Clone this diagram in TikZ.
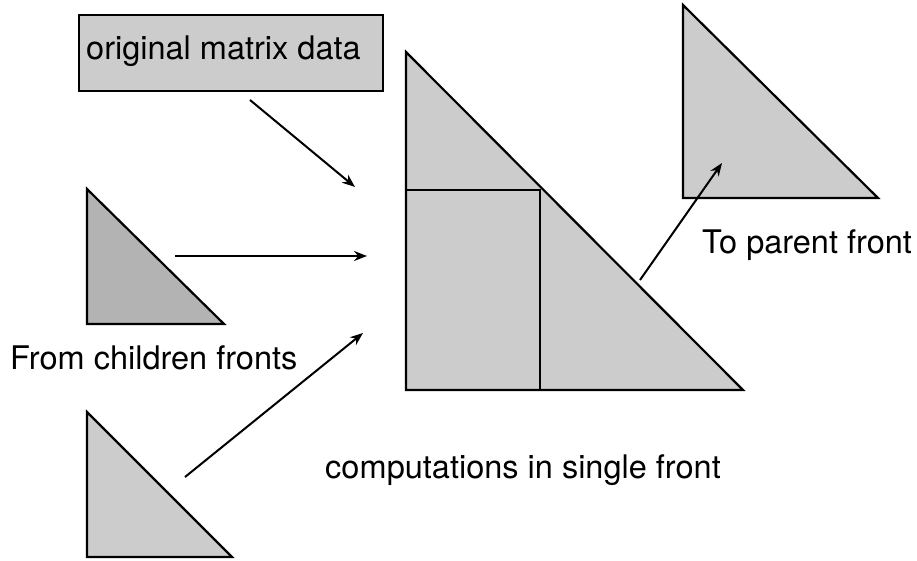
\documentclass[tikz,border=0pt]{standalone}
\usepackage{fontspec}
\setmainfont{TeX Gyre Heros}
\usepackage{tikz}
\usetikzlibrary{arrows.meta,calc}
\definecolor{frontgray}{HTML}{CCCCCC}
\definecolor{childgray}{HTML}{B3B3B3}

\begin{document}
\begin{tikzpicture}[x=1pt,y=-1pt,>={Stealth[length=13pt,width=10pt]},
		front/.style={line width=2.2pt,fill=frontgray,line join=miter},
		flow/.style={line width=2pt,->},
		lbl/.style={font=\fontsize{32.5}{39}\selectfont,inner sep=0pt}]
			\useasboundingbox (0,0) rectangle (917,560);

			\node (orig) [front, draw, minimum width=304pt, minimum height=76pt, inner sep=0pt] at (231,53) {};
			\node (origtxt) [lbl, anchor=base west] at (86,59) {original matrix data};

			\draw [front, fill=childgray] (87,189) -- (87,324) -- (224,324) -- cycle;
			\draw [front] (87,412) -- (87,557) -- (232,557) -- cycle;
			\node (fromtxt) [lbl, anchor=west] at (10,358) {From children fronts};

			\draw [front] (406,52) -- (406,390) -- (743,390) -- cycle;
			\draw [line width=2.2pt] (406,190) -- (540,190) -- (540,390);
			\node (comptxt) [lbl] at (523,470) {computations in single front};

			\draw [front] (683,5) -- (683,198) -- (878,198) -- cycle;
			\node (totxt) [lbl, anchor=west] at (702,245) {To parent front};

			\coordinate (a1s) at (250,100);
			\coordinate (a1e) at (355,187);
			\coordinate (a2s) at (175,256);
			\coordinate (a2e) at (367,256);
			\coordinate (a3s) at (185,477);
			\coordinate (a3e) at (363,333);
			\coordinate (a4s) at (640,280);
			\coordinate (a4e) at (722,163);

			\draw [flow] (a1s) -- (a1e);
			\draw [flow] (a2s) -- (a2e);
			\draw [flow] (a3s) -- (a3e);
			\draw [flow] (a4s) -- (a4e);
		\end{tikzpicture}
\end{document}
